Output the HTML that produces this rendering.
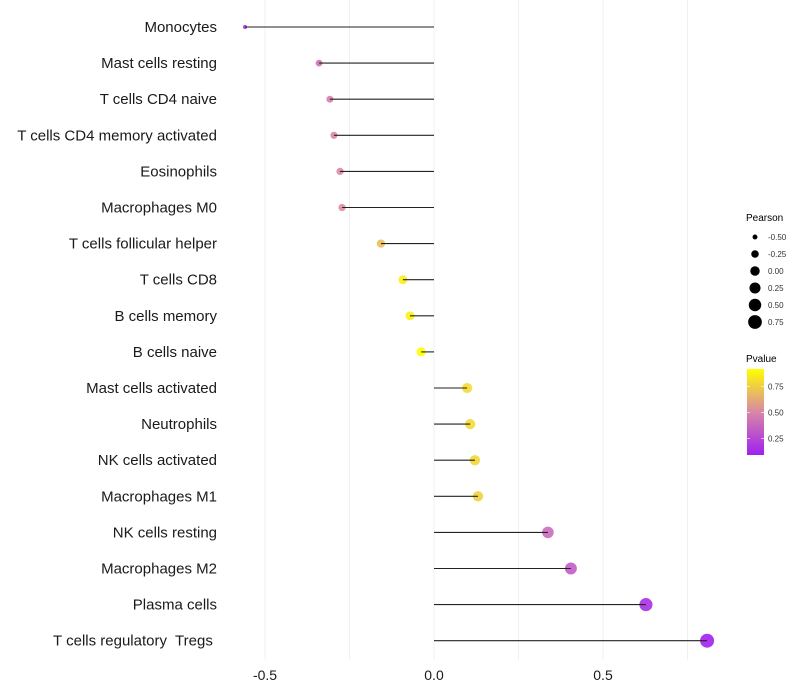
<!DOCTYPE html>
<html><head><meta charset="utf-8"><style>
body{margin:0;background:#fff;}
svg{display:block;font-family:"Liberation Sans",sans-serif;}
</style></head><body>
<svg id="chart" width="800" height="700"></svg>
<script>
const categories=["Monocytes","Mast cells resting","T cells CD4 naive","T cells CD4 memory activated","Eosinophils","Macrophages M0","T cells follicular helper","T cells CD8","B cells memory","B cells naive","Mast cells activated","Neutrophils","NK cells activated","Macrophages M1","NK cells resting","Macrophages M2","Plasma cells","T cells regulatory  Tregs "];
const pearson=[-0.559,-0.34,-0.308,-0.296,-0.278,-0.272,-0.157,-0.092,-0.071,-0.038,0.098,0.107,0.121,0.130,0.337,0.405,0.627,0.808];
const pvalue=[0.12,0.42,0.47,0.5,0.52,0.53,0.7,0.86,0.87,0.93,0.8,0.79,0.78,0.76,0.4,0.33,0.15,0.1];
const xTicks=[-0.5,0,0.5];
const xTickLabels=["-0.5","0.0","0.5"];
const gridVals=[-0.5,-0.25,0,0.25,0.5,0.75];
const sizeLegendVals=[-0.5,-0.25,0,0.25,0.5,0.75];
const sizeLegendLabels=["-0.50","-0.25","0.00","0.25","0.50","0.75"];
const pLegendVals=[0.25,0.5,0.75];
const pLegendLabels=["0.25","0.50","0.75"];

const NS="http://www.w3.org/2000/svg";
const svg=document.getElementById('chart');
const x=v=>434+v*338;
const y=i=>27+i*36.1;
const r=v=>Math.sqrt(Math.max(1,22.4+32.8*v));
function mix(a,b,t){return a.map((c,k)=>Math.round(c+(b[k]-c)*t));}
function color(p){
  const stops=[[0.09,[160,32,240]],[0.5,[216,134,168]],[0.92,[255,255,0]]];
  if(p<=stops[0][0])return `rgb(${stops[0][1]})`;
  for(let k=0;k<stops.length-1;k++){
    if(p<=stops[k+1][0]){const t=(p-stops[k][0])/(stops[k+1][0]-stops[k][0]);return `rgb(${mix(stops[k][1],stops[k+1][1],t)})`;}
  }
  return `rgb(${stops[2][1]})`;
}
function el(tag,attrs,parent){const e=document.createElementNS(NS,tag);for(const k in attrs)e.setAttribute(k,attrs[k]);(parent||svg).appendChild(e);return e;}

gridVals.forEach(v=>{
  const g=el('line',{x1:x(v),x2:x(v),y1:0,y2:660,stroke:'#f0f0f0','stroke-width':1});
  
  
});
categories.forEach((c,i)=>{
  const t=el('text',{x:217,y:y(i)+5,'text-anchor':'end','font-size':15,fill:'#1a1a1a','xml:space':'preserve'});
  t.style.whiteSpace='pre';
  t.textContent=c;
  
  
  const pt=el('circle',{cx:x(pearson[i]),cy:y(i),r:r(pearson[i]),fill:color(pvalue[i]),'fill-opacity':0.9});
  
  
  const s=el('line',{x1:x(0),x2:x(pearson[i]),y1:y(i),y2:y(i),stroke:'#222','stroke-width':1.1});
  
  
});
xTicks.forEach((v,k)=>{
  const t=el('text',{x:x(v),y:680,'text-anchor':'middle','font-size':14,fill:'#1a1a1a'});
  t.textContent=xTickLabels[k];
  
  
});
const lt=el('text',{x:746,y:221,'font-size':10,fill:'#000'});lt.textContent='Pearson';


sizeLegendVals.forEach((v,k)=>{
  const cy=237+k*17;
  const c=el('circle',{cx:755,cy:cy,r:r(v),fill:'#000'});
  
  
  const t=el('text',{x:768,y:cy+3,'font-size':8,fill:'#333'});t.textContent=sizeLegendLabels[k];
  
  
});
const pt2=el('text',{x:746,y:362,'font-size':10,fill:'#000'});pt2.textContent='Pvalue';


const defs=el('defs',{});
const grad=el('linearGradient',{id:'pg',x1:0,y1:1,x2:0,y2:0},defs);
[0,0.5,1].forEach(o=>{const p=0.09+o*(0.92-0.09);el('stop',{offset:o,'stop-color':color(p)},grad);});
const bar=el('rect',{x:747,y:369,width:17,height:86,fill:'url(#pg)'});


const py=p=>455-(p-0.09)/(0.92-0.09)*86;
pLegendVals.forEach((v,k)=>{
  el('line',{x1:747,x2:750,y1:py(v),y2:py(v),stroke:'#fff','stroke-width':0.6});
  el('line',{x1:761,x2:764,y1:py(v),y2:py(v),stroke:'#fff','stroke-width':0.6});
  const t=el('text',{x:768,y:py(v)+3,'font-size':8,fill:'#333'});t.textContent=pLegendLabels[k];
  
  
});
</script>
</body></html>
